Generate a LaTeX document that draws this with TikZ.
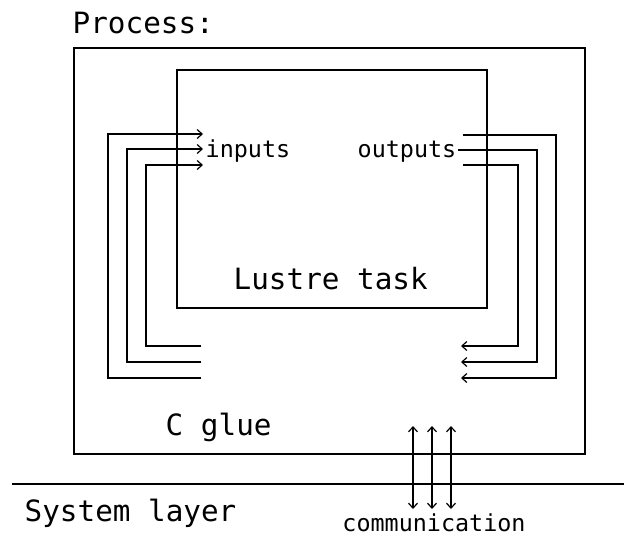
\documentclass[tikz,border=0pt]{standalone}
\usepackage{fontspec}
\newfontfamily\mono{DejaVu Sans Mono}
\usetikzlibrary{arrows.meta}
\begin{document}
\begin{tikzpicture}[x=1pt,y=-1pt,
  line width=1.4pt,
  box/.style={draw, rectangle, inner sep=0pt, line width=1.4pt},
  big/.style={font=\mono\fontsize{29.3}{34}\selectfont, inner sep=0pt},
  small/.style={font=\mono\fontsize{23.4}{28}\selectfont, inner sep=0pt},
  tip/.style={-{Straight Barb[length=5pt,width=9pt,line width=1.2pt]}},
  dtip/.style={{Straight Barb[length=5pt,width=9pt,line width=1.2pt]}-{Straight Barb[length=5pt,width=9pt,line width=1.2pt]}}]
\useasboundingbox (0,0) rectangle (624,536);
% boxes
\node[box, minimum width=511pt, minimum height=406pt] (process) at (329.5,251) {};
\node[box, minimum width=310pt, minimum height=238pt] (task) at (332,189) {};
% labels
\node[big, anchor=base west] (proclbl) at (72,33) {Process:};
\node[big, anchor=base west] (tasklbl) at (233,289) {Lustre task};
\node[big, anchor=base west] (gluelbl) at (165,435) {C glue};
\node[big, anchor=base west] (syslbl) at (24,521) {System layer};
\node[small, anchor=base west] (inlbl) at (205,157) {inputs};
\node[small, anchor=base east] (outlbl) at (457,157) {outputs};
\node[small, anchor=base] (comlbl) at (434,531) {communication};
% system layer line
\coordinate (sysL) at (12,484);
\coordinate (sysR) at (624,484);
\draw (sysL) -- (sysR);
% left loops (C glue -> inputs)
\coordinate (li1) at (203,134); \coordinate (lo1) at (201,378);
\coordinate (li2) at (203,149); \coordinate (lo2) at (201,362);
\coordinate (li3) at (203,165); \coordinate (lo3) at (201,346);
\draw[tip] (lo1) -| (108,134) -- (li1);
\draw[tip] (lo2) -| (127,149) -- (li2);
\draw[tip] (lo3) -| (146,165) -- (li3);
% right loops (outputs -> C glue)
\coordinate (ro1) at (463,135); \coordinate (ri1) at (461,378);
\coordinate (ro2) at (458,150); \coordinate (ri2) at (461,362);
\coordinate (ro3) at (463,165); \coordinate (ri3) at (461,346);
\draw[tip] (ro1) -| (556,378) -- (ri1);
\draw[tip] (ro2) -| (537,362) -- (ri2);
\draw[tip] (ro3) -| (518,346) -- (ri3);
% communication arrows
\coordinate (c1t) at (413,426); \coordinate (c1b) at (413,509);
\coordinate (c2t) at (432,426); \coordinate (c2b) at (432,509);
\coordinate (c3t) at (451,426); \coordinate (c3b) at (451,509);
\draw[dtip] (c1t) -- (c1b);
\draw[dtip] (c2t) -- (c2b);
\draw[dtip] (c3t) -- (c3b);
\end{tikzpicture}
\end{document}
